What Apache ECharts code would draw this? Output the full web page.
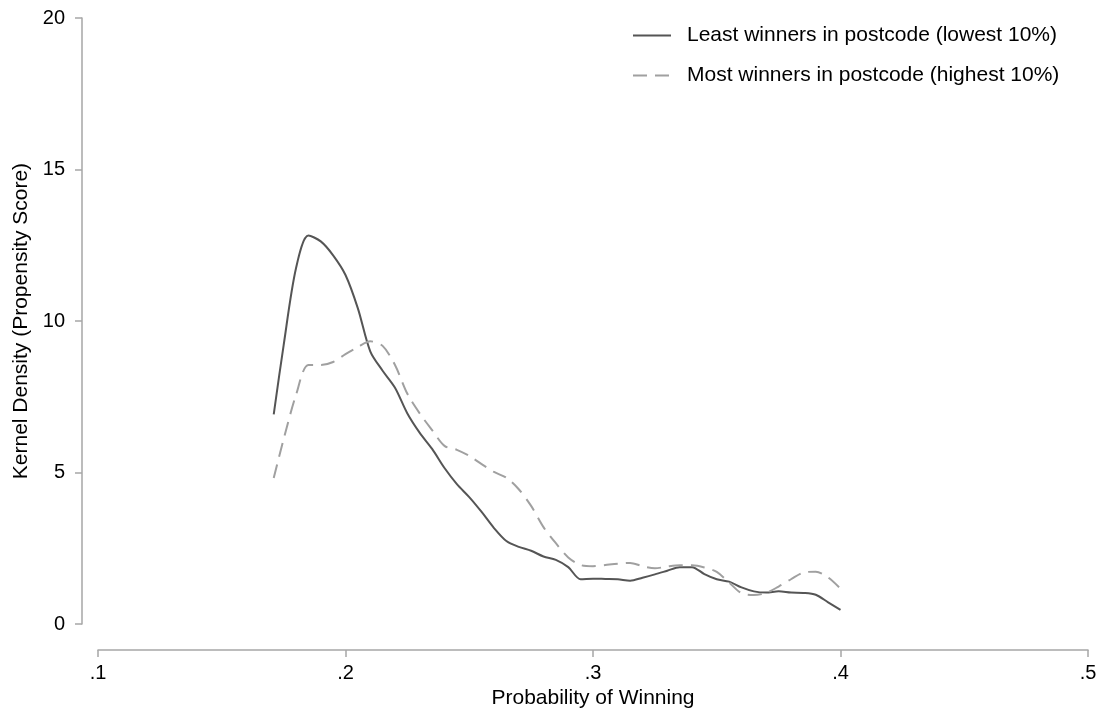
<!DOCTYPE html>
<html>
<head>
<meta charset="utf-8">
<script src="https://cdn.jsdelivr.net/npm/echarts@6/dist/echarts.min.js"></script>
<style>
html,body{margin:0;padding:0;background:#fff;}
#chart{width:1103px;height:714px;}
</style>
</head>
<body>
<div id="chart"></div>
<script>
var xValues = [0.171,0.175,0.180,0.185,0.190,0.195,0.200,0.205,0.210,0.215,0.220,0.225,0.230,0.235,0.240,0.245,0.250,0.255,0.260,0.265,0.270,0.275,0.280,0.285,0.290,0.295,0.300,0.305,0.310,0.315,0.320,0.325,0.330,0.335,0.340,0.345,0.350,0.355,0.360,0.365,0.370,0.375,0.380,0.385,0.390,0.395,0.400];
var leastWinners = [6.92,9.2,11.74,12.82,12.63,12.17,11.52,10.42,9.0,8.36,7.8,6.95,6.31,5.78,5.15,4.62,4.19,3.7,3.17,2.74,2.55,2.42,2.23,2.12,1.88,1.48,1.5,1.49,1.48,1.43,1.53,1.64,1.76,1.88,1.88,1.65,1.48,1.40,1.21,1.08,1.04,1.08,1.04,1.03,0.97,0.72,0.47];
var mostWinners = [4.82,6.1,7.56,8.55,8.55,8.65,8.91,9.14,9.33,9.18,8.55,7.6,6.95,6.4,5.88,5.75,5.55,5.28,5.02,4.83,4.45,3.9,3.2,2.67,2.2,1.95,1.91,1.95,1.99,2.02,1.91,1.84,1.90,1.94,1.94,1.87,1.72,1.37,1.02,0.96,1.03,1.24,1.48,1.70,1.73,1.54,1.17];
var seriesNames = ['Least winners in postcode (lowest 10%)','Most winners in postcode (highest 10%)'];
var xTicks = [0.1,0.2,0.3,0.4,0.5];
var yTicks = [0,5,10,15,20];

function pairs(xs, ys){ return xs.map(function(x,i){ return [x, ys[i]]; }); }

var font = '"Liberation Sans", Arial, Helvetica, sans-serif';
var axisGray = '#a6a6a6';
var chart = echarts.init(document.getElementById('chart'), null, {renderer:'canvas'});
chart.setOption({
  animation:false,
  backgroundColor:'#ffffff',
  textStyle:{fontFamily:font},
  grid:{left:98,right:15,top:18,bottom:83,containLabel:false},
  legend:{
    orient:'vertical', left:632, top:25, padding:0,
    itemWidth:38, itemHeight:14, itemGap:19,
    itemStyle:{opacity:0},
    textStyle:{fontFamily:font,fontSize:21,color:'#000',padding:[0,0,0,11]},
    data:seriesNames
  },
  xAxis:{
    type:'value', min:xTicks[0], max:xTicks[xTicks.length-1], interval:0.1,
    offset:26,
    axisLine:{show:true,onZero:false,lineStyle:{color:axisGray,width:1.5}},
    axisTick:{show:true,length:7,lineStyle:{color:axisGray,width:1.5}},
    splitLine:{show:false},
    axisLabel:{fontFamily:font,fontSize:20,color:'#000',margin:13,
      formatter:function(v){ return String(Math.round(v*10)/10).replace(/^0/,''); }},
    name:'Probability of Winning', nameLocation:'middle', nameGap:33,
    nameTextStyle:{fontFamily:font,fontSize:21,color:'#000'}
  },
  yAxis:{
    type:'value', min:yTicks[0], max:yTicks[yTicks.length-1], interval:5,
    offset:16,
    axisLine:{show:true,onZero:false,lineStyle:{color:axisGray,width:1.5}},
    axisTick:{show:true,length:7,lineStyle:{color:axisGray,width:1.5}},
    splitLine:{show:false},
    axisLabel:{fontFamily:font,fontSize:20,color:'#000',margin:17},
    name:'Kernel Density (Propensity Score)', nameLocation:'middle', nameGap:49,
    nameTextStyle:{fontFamily:font,fontSize:21,color:'#000'}
  },
  series:[
    {name:seriesNames[0], type:'line', data:pairs(xValues, leastWinners), smooth:0.3,
     symbol:'none', lineStyle:{color:'#555555',width:2}, itemStyle:{color:'#555555'}},
    {name:seriesNames[1], type:'line', data:pairs(xValues, mostWinners), smooth:0.3,
     symbol:'none', lineStyle:{color:'#a0a0a0',width:2,type:[14,8]}, itemStyle:{color:'#a0a0a0'}}
  ]
});
</script>
</body>
</html>
